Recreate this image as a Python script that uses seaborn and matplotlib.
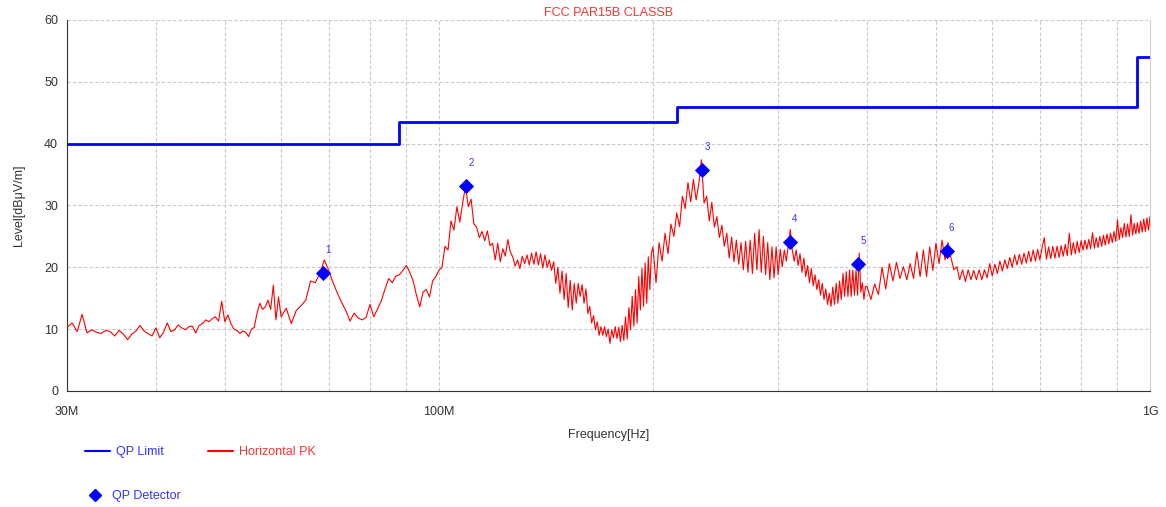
import numpy as np
import pandas as pd
import seaborn as sns
import matplotlib.pyplot as plt
from matplotlib.lines import Line2D

# limite QP (FCC parte 15 classe B), em MHz / dBuV/m
limit_freq = [30, 88, 216, 960, 1000]
limit_level = [40, 43.5, 46, 54, 54]

# pontos do detector QP
det_freq = [68.7, 109.2, 234.5, 311.8, 388.6, 518.0]
det_level = [19.1, 33.2, 35.8, 24.1, 20.6, 22.7]
det_label = ['1', '2', '3', '4', '5', '6']

# varredura do pico (horizontal), lida do gráfico por trechos
# 30 - 59.5 MHz, passo 0.5
pk_a1 = [10.3, 11.0, 9.6, 12.4, 9.4, 9.9, 9.5, 9.3, 9.8, 9.6,
         8.9, 9.8, 9.2, 8.3, 9.2, 9.7, 10.6, 9.7, 9.3, 8.9,
         10.2, 8.6, 9.5, 11.0, 9.6, 9.9, 10.7, 10.2, 9.9, 10.4,
         10.5, 9.4, 10.6, 10.9, 11.5, 11.2, 11.7, 12.0, 11.3, 14.5,
         11.2, 12.3, 10.9, 10.0, 9.8, 9.3, 9.7, 9.5, 8.8, 10.0,
         10.3, 12.6, 14.2, 13.2, 13.6, 14.7, 13.2, 17.1, 11.5, 15.2]
# 60 - 99 MHz, passo 1
pk_a2 = [12.0, 13.4, 10.9, 13.0, 13.8, 14.7, 17.8, 17.5, 19.0, 21.2,
         19.5, 17.5, 15.8, 14.3, 13.0, 11.3, 12.6, 11.8, 11.5, 11.9,
         14.0, 12.0, 13.3, 14.6, 16.5, 18.2, 17.5, 18.6, 18.8, 19.5,
         20.3, 19.2, 17.8, 15.5, 13.6, 16.0, 16.4, 15.2, 17.8, 18.5]
# 100 - 199 MHz, passo 1
pk_b = [19.5, 20.0, 23.4, 22.8, 27.5, 26.0, 29.8, 27.3, 30.4, 33.1,
        29.8, 31.0, 27.0, 26.5, 24.8, 25.8, 24.3, 25.9, 23.5, 23.9,
        21.2, 23.9, 20.9, 23.0, 21.8, 24.5, 22.5, 21.7, 20.2, 21.2,
        19.8, 21.8, 20.6, 22.0, 20.4, 22.3, 20.5, 22.5, 20.4, 22.2,
        19.9, 22.0, 20.0, 21.2, 19.5, 20.9, 17.4, 20.0, 15.8, 19.4,
        14.8, 19.0, 13.5, 17.9, 13.1, 17.4, 14.2, 17.4, 15.3, 17.2,
        14.2, 16.5, 12.5, 13.7, 11.0, 12.2, 9.9, 11.2, 9.0, 10.4,
        9.0, 10.4, 8.8, 10.0, 7.7, 9.9, 8.6, 10.4, 8.5, 10.3,
        8.0, 10.6, 8.2, 12.0, 8.4, 13.5, 9.9, 15.3, 10.5, 16.4,
        11.0, 18.5, 13.1, 19.8, 13.7, 20.7, 14.2, 21.7, 16.4, 22.3]
# 200 - 398 MHz, passo 2
pk_c = [23.3, 17.5, 24.0, 21.0, 25.5, 22.2, 27.0, 25.0, 28.8, 26.6,
        31.5, 29.5, 33.7, 30.6, 34.2, 30.9, 33.5, 37.4, 30.4, 31.5,
        27.5, 30.5, 26.5, 28.2, 24.8, 26.8, 23.4, 25.5, 21.5, 24.9,
        20.9, 24.4, 20.5, 24.0, 19.6, 24.2, 19.2, 24.4, 19.0, 25.5,
        19.6, 26.1, 19.2, 25.0, 18.8, 24.0, 18.0, 23.3, 18.3, 23.3,
        18.8, 22.9, 20.1, 22.8, 21.0, 23.5, 26.1, 22.8, 21.0, 22.8,
        20.3, 22.2, 19.2, 21.5, 18.5, 20.3, 17.5, 19.8, 17.0, 18.8,
        16.4, 18.0, 15.5, 17.4, 14.8, 16.5, 14.0, 15.8, 13.7, 16.8,
        14.0, 17.4, 14.2, 17.8, 14.8, 19.0, 15.3, 19.3, 15.3, 19.6,
        15.3, 19.6, 15.5, 19.5, 15.5, 22.3, 16.0, 17.5, 14.8, 16.9]
# 400 - 1000 MHz, passo 5
pk_d = [16.9, 14.8, 17.3, 15.6, 20.0, 16.5, 20.6, 17.8, 20.8, 18.2,
        20.1, 18.0, 20.6, 18.2, 22.5, 18.5, 22.8, 18.5, 23.3, 19.5,
        23.9, 20.6, 24.4, 21.2, 24.0, 21.5, 19.6, 20.1, 18.0, 19.6,
        17.7, 19.6, 18.0, 19.5, 18.0, 19.6, 18.0, 19.6, 18.3, 20.6,
        18.6, 20.5, 19.0, 21.0, 19.4, 21.2, 19.8, 21.6, 20.0, 22.0,
        20.4, 22.1, 20.5, 22.3, 20.7, 22.6, 20.9, 22.8, 21.0, 22.9,
        21.2, 23.2, 24.8, 21.3, 23.3, 21.4, 23.4, 21.5, 23.4, 21.6,
        23.5, 21.8, 23.7, 21.9, 25.5, 22.0, 24.0, 22.2, 24.2, 22.4,
        24.3, 22.8, 24.4, 22.9, 24.5, 23.0, 25.6, 23.1, 24.8, 23.2,
        25.0, 23.4, 25.2, 23.6, 25.4, 23.8, 25.5, 24.0, 25.8, 24.2,
        27.7, 24.5, 26.4, 24.8, 27.1, 24.9, 27.0, 25.0, 28.5, 25.2,
        27.1, 25.4, 27.2, 25.5, 27.5, 25.7, 27.8, 25.8, 28.0, 26.0,
        28.2]

# grade de frequências da varredura (MHz)
pk_freq = np.concatenate([np.arange(30, 60, 0.5), np.arange(60, 100, 1),
                          np.arange(100, 200, 1), np.arange(200, 400, 2),
                          np.arange(400, 1001, 5)])
pk_level = pk_a1 + pk_a2 + pk_b + pk_c + pk_d

df_pk = pd.DataFrame({'freq': pk_freq, 'level': pk_level})
df_lim = pd.DataFrame({'freq': limit_freq, 'level': limit_level})
df_det = pd.DataFrame({'freq': det_freq, 'level': det_level, 'label': det_label})

sns.set_style('white')
plt.rcParams['font.family'] = ['Liberation Sans', 'DejaVu Sans']

blue = '#0000ff'
red = '#ff0000'

fig = plt.figure(figsize=(11.66, 5.07), dpi=100)
ax = fig.add_axes([0.0575, 0.2288, 0.9288, 0.7318])

sns.lineplot(data=df_lim, x='freq', y='level', ax=ax, color=blue, lw=2,
             drawstyle='steps-post', estimator=None, sort=False, zorder=3)
sns.lineplot(data=df_pk, x='freq', y='level', ax=ax, color=red, lw=0.8,
             estimator=None, sort=False, zorder=4)
sns.scatterplot(data=df_det, x='freq', y='level', ax=ax, color=blue,
                marker='D', s=60, edgecolor=blue, linewidth=0, zorder=5)

for f, l, t in zip(det_freq, det_level, det_label):
    ax.annotate(t, (f, l), xytext=(3.5, 16.5), textcoords='offset points',
                ha='center', va='center', fontsize=7, color='#3333ff')

ax.set_xscale('log')
ax.set_xlim(30, 1000)
ax.set_ylim(0, 60)
ax.set_xticks([30, 100, 1000])
ax.set_xticklabels(['30M', '100M', '1G'])
ax.set_xticks([40, 50, 60, 70, 80, 90, 200, 300, 400, 500, 600, 700, 800, 900],
              minor=True)
ax.xaxis.set_minor_formatter(plt.NullFormatter())
ax.set_yticks(range(0, 61, 10))

ax.grid(True, which='both', axis='x', color='#c8c8c8', lw=0.8, ls=(0, (3, 2)))
ax.grid(True, which='major', axis='y', color='#c8c8c8', lw=0.8, ls=(0, (3, 2)))
ax.set_axisbelow(True)

ax.tick_params(axis='both', which='both', direction='inout', length=6,
               width=0.8, color='#333333', labelsize=9, labelcolor='#333333')
ax.tick_params(axis='x', which='major', pad=8)

ax.spines['top'].set_visible(False)
ax.spines['right'].set_color('#d0d0d0')
ax.spines['left'].set_color('#333333')
ax.spines['bottom'].set_color('#333333')

ax.set_title('FCC PAR15B CLASSB', color='#ff3333', fontsize=9, pad=3)
ax.set_xlabel('Frequency[Hz]', fontsize=9, color='#333333', labelpad=8)
ax.set_ylabel('Level[dB\u03bcV/m]', fontsize=9, color='#333333', labelpad=14)

# legenda embaixo
h1 = [Line2D([], [], color=blue, lw=1.5), Line2D([], [], color=red, lw=1.5)]
leg1 = fig.legend(h1, ['QP Limit', 'Horizontal PK'], loc='center left',
                  bbox_to_anchor=(85 / 1166, 1 - 452 / 507), ncol=2,
                  frameon=False, fontsize=9, borderpad=0, borderaxespad=0,
                  handlelength=2.0, handletextpad=0.5, columnspacing=3.5)
for txt, c in zip(leg1.get_texts(), ['#3333ff', '#ff3333']):
    txt.set_color(c)

h2 = [Line2D([], [], color=blue, ls='none', marker='D', markersize=6)]
leg2 = fig.legend(h2, ['QP Detector'], loc='center left',
                  bbox_to_anchor=(82 / 1166, 1 - 496 / 507), frameon=False,
                  fontsize=9, borderpad=0, borderaxespad=0,
                  handlelength=2.0, handletextpad=0.4)
leg2.get_texts()[0].set_color('#3333ff')

fig.savefig('out.png', dpi=100)
